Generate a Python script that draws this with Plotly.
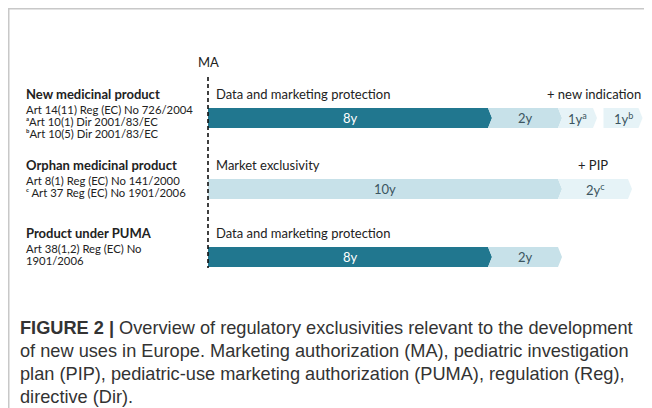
import plotly.graph_objects as go

# ---- data ----
rows = ["New medicinal product", "Orphan medicinal product", "Product under PUMA"]
row_refs = [
    ["Art 14(11) Reg (EC) No 726/2004", "\u1d43Art 10(1) Dir 2001/83/EC", "\u1d47Art 10(5) Dir 2001/83/EC"],
    ["Art 8(1) Reg (EC) No 141/2000", "\u1d9c Art 37 Reg (EC) No 1901/2006"],
    ["Art 38(1,2) Reg (EC) No", "1901/2006"],
]
row_headers = ["Data and marketing protection", "Market exclusivity", "Data and marketing protection"]
row_extras = ["+ new indication", "+ PIP", ""]
# segments per row: (start year, length in years, label, level)
seg_start = [[0, 8, 10, 11.3], [0, 10], [0, 8]]
seg_len = [[8, 2, 1, 1], [10, 2], [8, 2]]
seg_label = [["8y", "2y", "1y<sup>a</sup>", "1y<sup>b</sup>"], ["10y", "2y<sup>c</sup>"], ["8y", "2y"]]
seg_level = [[0, 1, 2, 2], [1, 2], [0, 1]]
caption = [
    "<b>FIGURE 2 |</b> Overview of regulatory exclusivities relevant to the development",
    "of new uses in Europe. Marketing authorization (MA), pediatric investigation",
    "plan (PIP), pediatric-use marketing authorization (PUMA), regulation (Reg),",
    "directive (Dir).",
]

# ---- style ----
PW, PH = 652, 408     # page size
OFF = 8               # page body margin
W, H = PW - OFF, PH - OFF
X0 = 208              # page px of MA
PX = 35.0             # px per year
PAD = 3               # annotation inner padding
fill_cols = ["#21778f", "#c7e1e9", "#e6f3f7"]
text_cols = ["#ffffff", "#3b5560", "#3b5560"]
row_y = [118, 189, 257]
bar_h = 20
tip = 4 / PX
header_dy = -24
FONT = "Lato"
TXT = "#222222"


def px(xpage):
    return (xpage - OFF) / W


fig = go.Figure()

for r in range(len(rows)):
    yc = row_y[r]
    yt, yb = yc - bar_h / 2, yc + bar_h / 2
    for i in range(len(seg_start[r])):
        s = seg_start[r][i]
        e = s + seg_len[r][i]
        notch = 0 if s == 0 or (i > 0 and abs(seg_start[r][i - 1] + seg_len[r][i - 1] - s) > 1e-6) else tip
        xs = [s, e, e + tip, e, s, s + notch, s]
        ys = [yt, yt, yc, yb, yb, yc, yt]
        lvl = seg_level[r][i]
        fig.add_trace(go.Scatter(x=xs, y=ys, fill="toself", mode="lines",
                                 line=dict(width=0, color=fill_cols[lvl]),
                                 fillcolor=fill_cols[lvl], hoverinfo="skip", showlegend=False))
        fig.add_annotation(x=(s + e) / 2 + tip / 2, y=yc, text=seg_label[r][i], showarrow=False,
                           xref="x", yref="y", font=dict(family=FONT, size=13, color=text_cols[lvl]),
                           xanchor="center", yanchor="middle")
    fig.add_annotation(x=(217 - PAD - X0) / PX, y=yc + header_dy, text=row_headers[r], showarrow=False,
                       xref="x", yref="y", xanchor="left", yanchor="middle",
                       font=dict(family=FONT, size=13, color=TXT))
    if row_extras[r]:
        last_s = seg_start[r][-1]
        last_e = last_s + seg_len[r][-1]
        if r == 0:
            fig.add_annotation(x=last_e + tip, y=yc + header_dy, text=row_extras[r], showarrow=False,
                               xref="x", yref="y", xanchor="right", yanchor="middle",
                               font=dict(family=FONT, size=13, color=TXT))
        else:
            fig.add_annotation(x=(last_s + last_e) / 2, y=yc + header_dy, text=row_extras[r], showarrow=False,
                               xref="x", yref="y", xanchor="center", yanchor="middle",
                               font=dict(family=FONT, size=13, color=TXT))
    fig.add_annotation(x=px(27 - PAD), y=yc + header_dy, text="<b>" + rows[r] + "</b>", showarrow=False,
                       xref="paper", yref="y", xanchor="left", yanchor="middle",
                       font=dict(family=FONT, size=13, color=TXT))
    for j, ref in enumerate(row_refs[r]):
        fig.add_annotation(x=px(27 - PAD), y=yc - 9 + 12 * j, text=ref, showarrow=False,
                           xref="paper", yref="y", xanchor="left", yanchor="middle",
                           font=dict(family=FONT, size=11.3, color=TXT))

# MA line and label
fig.add_shape(type="line", x0=0, x1=0, y0=77, y1=268, xref="x", yref="y",
              line=dict(color="#111111", width=1.6, dash="4px,3px"))
fig.add_annotation(x=0, y=62, text="MA", showarrow=False, xref="x", yref="y",
                   xanchor="center", yanchor="middle", font=dict(family=FONT, size=13, color=TXT))

# caption
for k, line in enumerate(caption):
    fig.add_annotation(x=px(21 - PAD), y=328 + 23 * k, text=line, showarrow=False,
                       xref="paper", yref="y", xanchor="left", yanchor="middle",
                       font=dict(family="Liberation Sans, Arial", size=18.2, color="#333333"))

# border
fig.add_shape(type="line", x0=0, x1=1, y0=8.75, y1=8.75, xref="paper", yref="y",
              line=dict(color="#c8c8c8", width=1.5))
fig.add_shape(type="line", x0=px(8.75), x1=px(8.75), y0=8.75, y1=PH, xref="paper", yref="y",
              line=dict(color="#c8c8c8", width=1.5))

fig.update_layout(
    width=W, height=H, margin=dict(l=0, r=0, t=0, b=0),
    paper_bgcolor="white", plot_bgcolor="white",
    xaxis=dict(range=[-(X0 - OFF) / PX, (PW - X0) / PX], visible=False, fixedrange=True),
    yaxis=dict(range=[PH, OFF], visible=False, fixedrange=True),
    showlegend=False,
)
fig.write_html("out.html")
